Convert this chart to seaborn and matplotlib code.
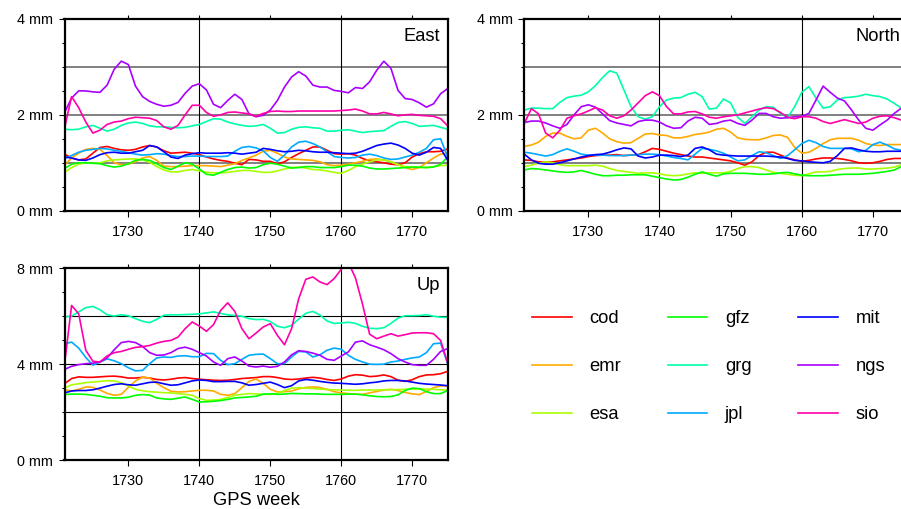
import matplotlib
matplotlib.use("Agg")
import matplotlib.pyplot as plt
from matplotlib.ticker import FixedLocator, MultipleLocator
import pandas as pd
import seaborn as sns

# ---------------- data ----------------
weeks = list(range(1721, 1776))
centers = ["cod", "emr", "esa", "gfz", "grg", "jpl", "mit", "ngs", "sio"]

# East component (mm)
east_cod = [1.18, 1.10, 1.06, 1.08, 1.20, 1.32, 1.34, 1.30, 1.27, 1.26,
            1.28, 1.33, 1.36, 1.33, 1.25, 1.20, 1.21, 1.22, 1.20, 1.17,
            1.12, 1.08, 1.05, 1.03, 0.99, 0.96, 1.07, 1.06, 1.03, 1.03,
            0.98, 1.02, 1.11, 1.19, 1.26, 1.33, 1.33, 1.26, 1.19, 1.18,
            1.19, 1.16, 1.09, 1.04, 1.02, 1.00, 0.97, 0.96, 1.00, 1.12,
            1.19, 1.23, 1.23, 1.24, 1.29]
east_emr = [0.95, 1.10, 1.20, 1.28, 1.30, 1.28, 1.15, 1.00, 0.96, 0.97,
            1.02, 1.10, 1.13, 1.05, 0.93, 0.92, 0.92, 0.93, 0.94, 0.94,
            0.94, 0.93, 0.92, 0.95, 0.98, 1.05, 1.10, 1.16, 1.24, 1.26,
            1.20, 1.12, 1.08, 1.07, 1.06, 1.05, 1.02, 0.96, 0.94, 0.95,
            0.97, 1.00, 1.03, 1.07, 1.08, 1.06, 1.02, 0.96, 0.90, 0.86,
            0.90, 1.00, 1.10, 1.18, 1.20]
east_esa = [0.80, 0.90, 0.97, 1.00, 0.99, 1.00, 1.04, 1.06, 1.07, 1.08,
            1.08, 1.06, 1.01, 0.92, 0.85, 0.81, 0.81, 0.84, 0.86, 0.83,
            0.80, 0.79, 0.79, 0.80, 0.82, 0.84, 0.84, 0.82, 0.80, 0.80,
            0.83, 0.87, 0.90, 0.91, 0.89, 0.86, 0.85, 0.83, 0.80, 0.78,
            0.84, 0.92, 0.97, 1.02, 1.06, 1.06, 1.02, 0.96, 0.92, 0.91,
            0.90, 0.90, 0.92, 0.94, 0.95]
east_gfz = [0.88, 0.97, 1.00, 1.00, 0.99, 0.98, 0.94, 0.91, 0.93, 0.98,
            1.05, 1.07, 1.05, 0.98, 0.90, 0.86, 0.93, 1.00, 0.97, 0.87,
            0.76, 0.74, 0.80, 0.86, 0.90, 0.91, 0.89, 0.90, 0.96, 0.99,
            0.97, 0.93, 0.89, 0.90, 0.92, 0.92, 0.90, 0.90, 0.90, 0.92,
            0.95, 0.95, 0.93, 0.89, 0.87, 0.87, 0.88, 0.89, 0.90, 0.91,
            0.91, 0.90, 0.91, 0.97, 1.12]
east_grg = [1.70, 1.69, 1.70, 1.75, 1.78, 1.72, 1.66, 1.70, 1.78, 1.83,
            1.85, 1.82, 1.77, 1.75, 1.75, 1.74, 1.73, 1.74, 1.77, 1.80,
            1.86, 1.92, 1.91, 1.85, 1.81, 1.78, 1.76, 1.77, 1.80, 1.72,
            1.62, 1.63, 1.70, 1.74, 1.75, 1.73, 1.72, 1.66, 1.66, 1.68,
            1.69, 1.66, 1.63, 1.65, 1.66, 1.67, 1.76, 1.84, 1.86, 1.82,
            1.76, 1.77, 1.78, 1.74, 1.70]
east_jpl = [1.09, 1.15, 1.22, 1.26, 1.28, 1.30, 1.29, 1.26, 1.24, 1.21,
            1.18, 1.16, 1.17, 1.19, 1.18, 1.15, 1.13, 1.13, 1.14, 1.14,
            1.13, 1.13, 1.13, 1.14, 1.24, 1.32, 1.34, 1.31, 1.25, 1.11,
            1.03, 1.16, 1.33, 1.43, 1.45, 1.40, 1.33, 1.23, 1.13, 1.11,
            1.10, 1.11, 1.16, 1.18, 1.15, 1.10, 1.07, 1.08, 1.12, 1.16,
            1.22, 1.30, 1.48, 1.50, 1.12]
east_mit = [1.12, 1.10, 1.06, 1.05, 1.10, 1.17, 1.21, 1.22, 1.20, 1.20,
            1.23, 1.26, 1.36, 1.33, 1.23, 1.12, 1.09, 1.16, 1.19, 1.21,
            1.20, 1.20, 1.20, 1.21, 1.20, 1.18, 1.20, 1.22, 1.30, 1.28,
            1.25, 1.23, 1.24, 1.26, 1.25, 1.23, 1.22, 1.22, 1.21, 1.20,
            1.19, 1.20, 1.24, 1.30, 1.36, 1.39, 1.41, 1.37, 1.30, 1.20,
            1.16, 1.22, 1.32, 1.30, 1.05]
east_ngs = [2.05, 2.35, 2.50, 2.50, 2.48, 2.47, 2.62, 2.95, 3.12, 3.05,
            2.60, 2.38, 2.28, 2.22, 2.18, 2.20, 2.26, 2.45, 2.60, 2.65,
            2.52, 2.22, 2.15, 2.30, 2.43, 2.32, 2.02, 1.96, 1.99, 2.10,
            2.30, 2.58, 2.79, 2.90, 2.81, 2.62, 2.58, 2.58, 2.51, 2.49,
            2.46, 2.57, 2.55, 2.69, 2.93, 3.12, 2.97, 2.51, 2.34, 2.32,
            2.25, 2.16, 2.23, 2.44, 2.55]
east_sio = [1.72, 2.38, 2.15, 1.85, 1.62, 1.68, 1.80, 1.85, 1.87, 1.92,
            1.95, 1.94, 1.93, 1.88, 1.75, 1.70, 1.78, 2.00, 2.20, 2.20,
            2.05, 1.97, 2.00, 2.05, 2.06, 2.04, 2.02, 1.97, 2.03, 2.07,
            2.08, 2.07, 2.07, 2.08, 2.08, 2.08, 2.08, 2.08, 2.08, 2.09,
            2.10, 2.12, 2.08, 2.02, 2.02, 2.05, 2.02, 1.98, 2.00, 2.01,
            1.99, 1.98, 1.97, 1.92, 1.77]

# North component (mm)
north_cod = [1.06, 1.05, 1.02, 1.01, 1.02, 1.04, 1.06, 1.08, 1.10, 1.13,
             1.15, 1.16, 1.16, 1.17, 1.15, 1.16, 1.17, 1.23, 1.30, 1.28,
             1.24, 1.20, 1.17, 1.14, 1.12, 1.12, 1.10, 1.08, 1.06, 1.04,
             1.00, 0.95, 1.02, 1.15, 1.22, 1.22, 1.16, 1.10, 1.06, 1.03,
             1.05, 1.08, 1.10, 1.10, 1.09, 1.07, 1.04, 1.00, 0.99, 1.00,
             1.03, 1.07, 1.09, 1.09, 1.10]
north_emr = [1.34, 1.37, 1.43, 1.55, 1.62, 1.62, 1.55, 1.50, 1.52, 1.68,
             1.72, 1.62, 1.50, 1.44, 1.41, 1.42, 1.51, 1.60, 1.61, 1.58,
             1.57, 1.52, 1.52, 1.55, 1.59, 1.61, 1.64, 1.70, 1.72, 1.64,
             1.52, 1.49, 1.48, 1.48, 1.52, 1.57, 1.58, 1.53, 1.32, 1.20,
             1.22, 1.30, 1.40, 1.48, 1.51, 1.51, 1.51, 1.47, 1.40, 1.37,
             1.36, 1.38, 1.38, 1.38, 1.42]
north_esa = [0.92, 0.95, 0.99, 1.02, 1.00, 0.96, 0.94, 0.94, 0.94, 0.94,
             0.95, 0.93, 0.88, 0.84, 0.82, 0.80, 0.78, 0.79, 0.79, 0.77,
             0.74, 0.73, 0.74, 0.77, 0.79, 0.78, 0.79, 0.79, 0.79, 0.82,
             0.88, 0.92, 0.92, 0.90, 0.85, 0.80, 0.78, 0.76, 0.74, 0.73,
             0.77, 0.81, 0.81, 0.82, 0.86, 0.88, 0.89, 0.89, 0.87, 0.87,
             0.88, 0.89, 0.91, 0.96, 0.99]
north_gfz = [0.85, 0.88, 0.87, 0.85, 0.83, 0.81, 0.80, 0.81, 0.84, 0.80,
             0.76, 0.73, 0.73, 0.74, 0.74, 0.75, 0.75, 0.75, 0.72, 0.69,
             0.66, 0.64, 0.65, 0.70, 0.76, 0.81, 0.76, 0.72, 0.77, 0.78,
             0.78, 0.78, 0.77, 0.76, 0.76, 0.77, 0.79, 0.80, 0.77, 0.74,
             0.73, 0.73, 0.73, 0.74, 0.75, 0.76, 0.76, 0.76, 0.77, 0.78,
             0.80, 0.82, 0.85, 0.92, 0.96]
north_grg = [2.10, 2.14, 2.14, 2.13, 2.13, 2.26, 2.36, 2.39, 2.41, 2.48,
             2.61, 2.78, 2.92, 2.87, 2.52, 2.17, 1.96, 1.91, 1.96, 2.17,
             2.31, 2.35, 2.36, 2.43, 2.47, 2.38, 2.12, 2.14, 2.33, 2.25,
             1.95, 1.82, 1.96, 2.10, 2.17, 2.16, 2.03, 1.94, 2.17, 2.47,
             2.59, 2.35, 2.14, 2.17, 2.31, 2.36, 2.37, 2.39, 2.43, 2.40,
             2.38, 2.33, 2.24, 2.14, 2.08]
north_jpl = [1.22, 1.20, 1.17, 1.14, 1.17, 1.24, 1.29, 1.24, 1.18, 1.16,
             1.16, 1.16, 1.15, 1.15, 1.15, 1.16, 1.17, 1.18, 1.18, 1.17,
             1.14, 1.11, 1.09, 1.06, 1.18, 1.30, 1.28, 1.25, 1.20, 1.12,
             1.04, 1.06, 1.15, 1.23, 1.21, 1.15, 1.09, 1.15, 1.27, 1.40,
             1.47, 1.42, 1.34, 1.30, 1.30, 1.30, 1.29, 1.23, 1.26, 1.38,
             1.43, 1.37, 1.29, 1.26, 1.25]
north_mit = [1.18, 1.06, 0.99, 0.97, 0.97, 1.00, 1.04, 1.08, 1.12, 1.15,
             1.17, 1.18, 1.22, 1.27, 1.31, 1.29, 1.14, 1.10, 1.12, 1.16,
             1.16, 1.15, 1.13, 1.16, 1.30, 1.33, 1.27, 1.18, 1.16, 1.15,
             1.14, 1.14, 1.14, 1.14, 1.14, 1.13, 1.12, 1.09, 1.05, 1.04,
             1.02, 1.01, 1.00, 1.03, 1.15, 1.30, 1.31, 1.27, 1.24, 1.23,
             1.23, 1.24, 1.24, 1.24, 1.24]
north_ngs = [1.84, 1.87, 1.87, 1.83, 1.77, 1.72, 1.80, 2.00, 2.17, 2.21,
             2.16, 2.02, 1.88, 1.83, 1.80, 1.77, 1.86, 1.89, 1.89, 1.85,
             1.77, 1.72, 1.73, 1.87, 1.95, 1.93, 1.80, 1.82, 1.87, 1.89,
             1.82, 1.78, 1.89, 2.03, 2.03, 1.96, 1.93, 1.94, 1.96, 1.97,
             2.03, 2.31, 2.60, 2.47, 2.35, 2.29, 2.10, 1.89, 1.72, 1.68,
             1.79, 1.89, 2.03, 2.14, 2.18]
north_sio = [1.82, 2.13, 2.02, 1.62, 1.52, 1.68, 1.93, 1.98, 2.02, 2.08,
             2.15, 2.10, 1.98, 1.93, 1.98, 2.10, 2.25, 2.40, 2.48, 2.40,
             2.17, 2.02, 2.02, 2.06, 2.07, 2.02, 1.95, 1.93, 1.96, 1.98,
             2.00, 2.04, 2.08, 2.12, 2.15, 2.13, 2.05, 1.95, 1.92, 1.96,
             1.96, 1.93, 1.86, 1.82, 1.86, 1.90, 1.86, 1.82, 1.85, 1.93,
             1.97, 1.98, 1.94, 1.89, 1.86]

# Up component (mm)
up_cod = [3.18, 3.40, 3.47, 3.45, 3.45, 3.47, 3.49, 3.50, 3.47, 3.42,
          3.42, 3.45, 3.42, 3.36, 3.34, 3.37, 3.42, 3.44, 3.40, 3.37,
          3.35, 3.33, 3.32, 3.33, 3.36, 3.40, 3.42, 3.44, 3.48, 3.48,
          3.44, 3.38, 3.36, 3.38, 3.42, 3.45, 3.42, 3.36, 3.32, 3.38,
          3.50, 3.56, 3.54, 3.48, 3.50, 3.55, 3.48, 3.33, 3.28, 3.35,
          3.48, 3.55, 3.56, 3.60, 3.70]
up_emr = [2.93, 2.88, 2.95, 3.05, 3.03, 2.92, 2.78, 2.70, 2.74, 3.03,
          3.30, 3.46, 3.42, 3.20, 3.02, 2.87, 2.84, 2.85, 2.88, 2.91,
          2.91, 2.88, 2.74, 2.70, 2.77, 3.02, 3.28, 3.38, 3.20, 2.95,
          2.84, 2.85, 2.88, 2.97, 3.03, 3.05, 3.02, 2.95, 2.85, 2.80,
          2.77, 2.75, 2.74, 2.80, 2.86, 2.92, 2.95, 2.90, 2.82, 2.76,
          2.73, 2.86, 3.02, 3.09, 3.09]
up_esa = [3.00, 3.14, 3.18, 3.23, 3.25, 3.28, 3.31, 3.30, 3.23, 3.09,
          2.95, 2.89, 2.85, 2.83, 2.81, 2.80, 2.77, 2.74, 2.70, 2.56,
          2.49, 2.50, 2.53, 2.61, 2.70, 2.74, 2.77, 2.76, 2.74, 2.74,
          2.78, 2.90, 3.00, 3.02, 3.00, 2.98, 2.96, 2.94, 2.93, 2.92,
          2.91, 2.91, 2.92, 2.92, 2.92, 2.93, 2.93, 2.94, 2.95, 2.96,
          2.96, 2.96, 2.95, 2.93, 2.92]
up_gfz = [2.73, 2.75, 2.75, 2.74, 2.70, 2.66, 2.60, 2.59, 2.59, 2.62,
          2.70, 2.73, 2.71, 2.59, 2.55, 2.53, 2.58, 2.63, 2.53, 2.42,
          2.43, 2.45, 2.48, 2.53, 2.59, 2.61, 2.63, 2.66, 2.75, 2.76,
          2.74, 2.75, 2.78, 2.77, 2.76, 2.76, 2.75, 2.74, 2.74, 2.74,
          2.75, 2.75, 2.72, 2.68, 2.65, 2.64, 2.65, 2.72, 2.90, 3.00,
          2.98, 2.85, 2.77, 2.77, 2.90]
up_grg = [5.97, 6.01, 6.18, 6.36, 6.41, 6.27, 6.06, 6.01, 6.06, 6.02,
          5.90, 5.79, 5.73, 5.87, 6.04, 6.06, 6.06, 6.07, 6.08, 6.10,
          6.14, 6.18, 6.12, 6.06, 6.03, 6.00, 5.90, 5.86, 5.87, 5.78,
          5.58, 5.52, 5.62, 5.88, 6.12, 6.20, 6.05, 5.80, 5.70, 5.72,
          5.75, 5.70, 5.58, 5.50, 5.48, 5.52, 5.70, 5.92, 6.02, 6.02,
          6.03, 6.06, 6.00, 5.96, 5.95]
up_jpl = [4.85, 4.92, 4.67, 4.28, 3.96, 4.08, 4.22, 4.14, 4.02, 3.85,
          3.72, 3.74, 4.02, 4.26, 4.30, 4.28, 4.34, 4.35, 4.31, 4.31,
          4.45, 4.44, 4.16, 3.98, 4.02, 4.20, 4.37, 4.41, 4.42, 4.23,
          4.02, 4.02, 4.30, 4.53, 4.51, 4.30, 4.39, 4.58, 4.67, 4.62,
          4.37, 4.20, 4.09, 4.00, 3.99, 4.00, 4.09, 4.13, 4.20, 4.26,
          4.30, 4.48, 4.85, 4.88, 4.00]
up_mit = [2.80, 2.88, 2.90, 2.90, 2.93, 3.00, 3.08, 3.15, 3.18, 3.14,
          3.12, 3.18, 3.24, 3.25, 3.18, 3.12, 3.14, 3.22, 3.30, 3.34,
          3.32, 3.27, 3.27, 3.28, 3.28, 3.22, 3.12, 3.15, 3.20, 3.25,
          3.15, 3.02, 3.10, 3.30, 3.36, 3.33, 3.28, 3.24, 3.21, 3.20,
          3.18, 3.16, 3.18, 3.22, 3.25, 3.30, 3.32, 3.32, 3.30, 3.25,
          3.20, 3.17, 3.15, 3.13, 3.10]
up_ngs = [3.78, 3.91, 3.98, 4.02, 4.04, 4.10, 4.26, 4.60, 4.90, 4.95,
          4.90, 4.74, 4.48, 4.37, 4.38, 4.48, 4.65, 4.71, 4.62, 4.48,
          4.34, 4.09, 3.95, 4.23, 4.30, 4.13, 3.92, 3.88, 3.92, 3.87,
          3.91, 4.09, 4.39, 4.56, 4.53, 4.46, 4.37, 4.20, 4.16, 4.34,
          4.51, 4.92, 4.97, 4.81, 4.71, 4.60, 4.44, 4.23, 4.09, 3.98,
          3.95, 3.95, 4.20, 4.53, 4.65]
up_sio = [4.00, 6.45, 6.10, 4.58, 4.12, 4.09, 4.34, 4.48, 4.53, 4.62,
          4.70, 4.73, 4.78, 4.88, 4.95, 4.99, 5.13, 5.48, 5.76, 5.59,
          5.37, 5.65, 6.24, 6.56, 6.20, 5.48, 5.06, 5.30, 5.55, 5.69,
          5.20, 4.81, 5.48, 6.73, 7.54, 7.64, 7.43, 7.32, 7.57, 7.96,
          8.25, 7.60, 6.50, 5.25, 5.06, 5.17, 5.27, 5.17, 5.23, 5.30,
          5.31, 5.31, 5.27, 4.99, 4.05]

x_ticks = [1730, 1740, 1750, 1760, 1770]
x_grid = [1740, 1760]
hor_yticks = [0, 2, 4]
hor_ylabels = ["0 mm", "2 mm", "4 mm"]
hor_grid = [1, 2, 3]
up_yticks = [0, 4, 8]
up_ylabels = ["0 mm", "4 mm", "8 mm"]
up_grid = [2, 4, 6]

# ---------------- style ----------------
plt.rcParams["font.family"] = ["Liberation Sans", "DejaVu Sans"]
palette = sns.hls_palette(9, h=0.0, l=0.5, s=1.0)

W, H = 901, 509
fig = plt.figure(figsize=(W / 100, H / 100), dpi=100)


def add_ax(l, t, r, b):
    return fig.add_axes([l / W, 1 - b / H, (r - l) / W, (b - t) / H])


def long_df(series):
    parts = [pd.DataFrame({"week": weeks, "mm": vals, "center": c})
             for c, vals in zip(centers, series)]
    return pd.concat(parts, ignore_index=True)


def panel(ax, series, ymax, yticks, ylabels, minor, grid, gcolor, glw, title):
    sns.lineplot(data=long_df(series), x="week", y="mm", hue="center",
                 hue_order=centers, palette=palette, estimator=None,
                 linewidth=1.2, legend=False, ax=ax, zorder=3)
    ax.set_xlim(1721, 1775)
    ax.set_ylim(0, ymax)
    ax.set_xlabel("")
    ax.set_ylabel("")
    for g in grid:
        ax.axhline(g, color=gcolor, lw=glw, zorder=1)
    for g in x_grid:
        ax.axvline(g, color="black", lw=0.8, zorder=1)
    ax.xaxis.set_major_locator(FixedLocator(x_ticks))
    ax.set_xticklabels([str(t) for t in x_ticks])
    ax.yaxis.set_major_locator(FixedLocator(yticks))
    ax.set_yticklabels(ylabels)
    ax.yaxis.set_minor_locator(MultipleLocator(minor))
    ax.tick_params(axis="both", which="major", direction="out", length=4.3,
                   width=0.8, labelsize=10.4, color="black")
    ax.tick_params(axis="x", pad=6.0)
    ax.tick_params(axis="y", pad=4.0)
    ax.tick_params(axis="y", which="minor", direction="out", length=2.2,
                   width=0.8)
    top = ax.secondary_xaxis("top")
    top.xaxis.set_major_locator(FixedLocator(x_ticks))
    top.tick_params(direction="out", length=2.8, width=0.8, labeltop=False)
    top.spines["top"].set_visible(False)
    for s in ax.spines.values():
        s.set_linewidth(1.6)
        s.set_color("black")
        s.set_zorder(4)
    ax.text(1 - 8 / 383.2, 1 - 21.7 / 191.7, title, transform=ax.transAxes,
            ha="right", va="baseline", fontsize=13.2)


ax_e = add_ax(64.5, 19.0, 447.7, 210.7)
ax_n = add_ax(524.3, 19.0, 908.5, 210.7)
ax_u = add_ax(64.5, 268.3, 447.7, 460.0)

panel(ax_e, [east_cod, east_emr, east_esa, east_gfz, east_grg, east_jpl,
             east_mit, east_ngs, east_sio],
      4, hor_yticks, hor_ylabels, 0.5, hor_grid, "#808080", 1.4, "East")
handles = list(ax_e.get_lines()[:9])
panel(ax_n, [north_cod, north_emr, north_esa, north_gfz, north_grg, north_jpl,
             north_mit, north_ngs, north_sio],
      4, hor_yticks, hor_ylabels, 0.5, hor_grid, "#808080", 1.4, "North")
panel(ax_u, [up_cod, up_emr, up_esa, up_gfz, up_grg, up_jpl, up_mit, up_ngs,
             up_sio],
      8, up_yticks, up_ylabels, 1.0, up_grid, "black", 0.8, "Up")
ax_u.set_xlabel("GPS week", fontsize=13.2, labelpad=2.5)

fig.legend(handles, centers, loc="upper left",
           bbox_to_anchor=(532 / W, 1 - 310 / H), ncol=3, frameon=False,
           fontsize=13.2, handlelength=2.17, handletextpad=0.95,
           columnspacing=2.55, labelspacing=1.7, borderpad=0,
           borderaxespad=0)

fig.savefig("out.png", dpi=100)
